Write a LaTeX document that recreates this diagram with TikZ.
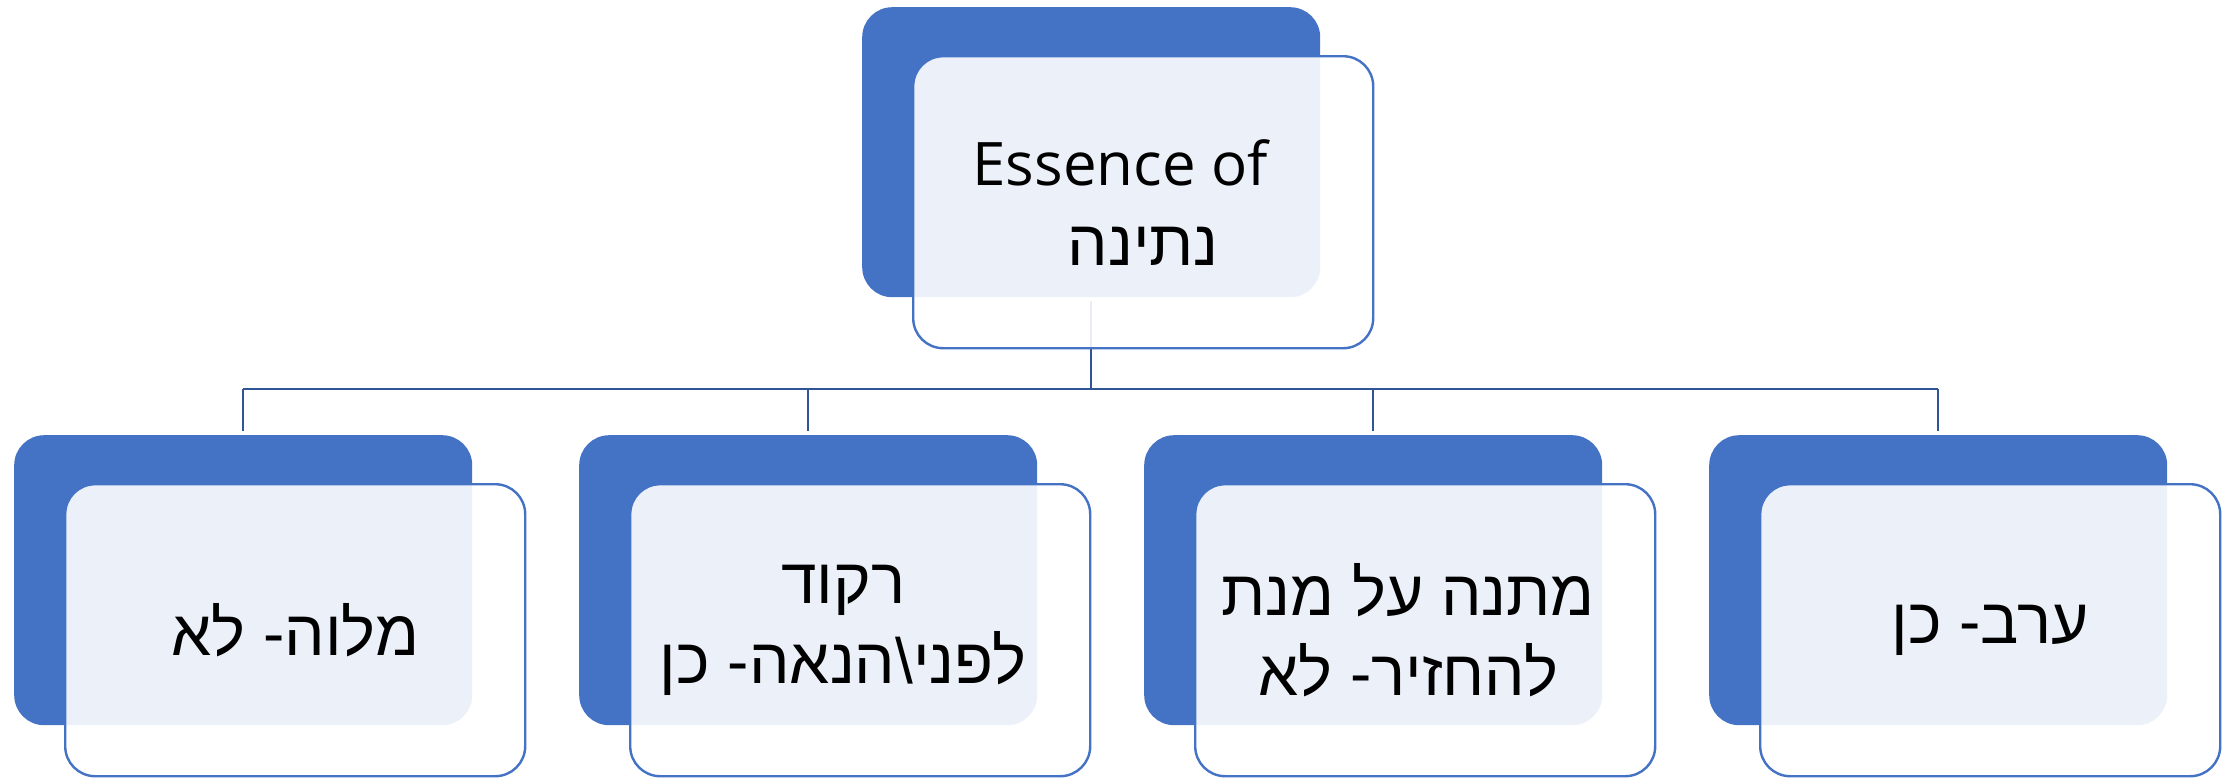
\documentclass[tikz,border=0pt]{standalone}
\usepackage{fontspec}
\usetikzlibrary{calc}
\setmainfont{Open Sans}
\newfontfamily\hebfont[Script=Hebrew]{Liberation Sans}
\TeXXeTstate=1
\definecolor{accent}{HTML}{4472C4}
\definecolor{connc}{HTML}{2F5597}
\newcommand{\heb}[1]{{\hebfont\beginR #1\endR}}
\newcommand{\padr}[1]{\rule{#1}{0pt}}
\begin{document}
\begin{tikzpicture}[x=1pt,y=1pt,
  bluebox/.style={rectangle, rounded corners=30pt, fill=accent, draw=none,
    minimum width=458pt, minimum height=290pt, inner sep=0pt, anchor=north west},
  frontbox/.style={rectangle, rounded corners=30pt, fill=white, fill opacity=0.9,
    text opacity=1, draw=accent, draw opacity=1, line width=2.4pt,
    minimum width=460pt, minimum height=292pt, inner sep=0pt, anchor=north west,
    align=center, font=\fontsize{64pt}{80pt}\selectfont},
  conn/.style={draw=connc, line width=2pt}]
\useasboundingbox (0,0) rectangle (2236,-777);
% back boxes
\node[bluebox] (b0) at (862,-7) {};
\node[bluebox] (b1) at (14,-435) {};
\node[bluebox] (b2) at (579,-435) {};
\node[bluebox] (b3) at (1144,-435) {};
\node[bluebox] (b4) at (1709,-435) {};
% connectors
\coordinate (hub) at ($(b0.south)+(0,-92)$);
\draw[conn] ([yshift=-4pt]b0.south) -- (hub);
\draw[conn] (b1.north |- hub) -- (b4.north |- hub);
\foreach \b in {b1,b2,b3,b4}{
  \draw[conn] (\b.north |- hub) -- ([yshift=4pt]\b.north);
}
% front boxes
\node[frontbox] (f0) at (912,-55) {{\fontsize{60pt}{80pt}\selectfont Essence of}\padr{46pt}\\\heb{נתינה}};
\node[frontbox] (f1) at (64,-483) {\heb{מלוה- לא}};
\node[frontbox] (f2) at (629,-483) {\heb{רקוד}\padr{34pt}\\\heb{לפני\textbackslash הנאה- כן}\padr{34pt}};
\node[frontbox] (f3) at (1194,-483) {\heb{מתנה על מנת}\padr{34pt}\\\heb{להחזיר- לא}\padr{34pt}};
\node[frontbox] (f4) at (1759,-483) {\heb{ערב- כן}};
\end{tikzpicture}
\end{document}
